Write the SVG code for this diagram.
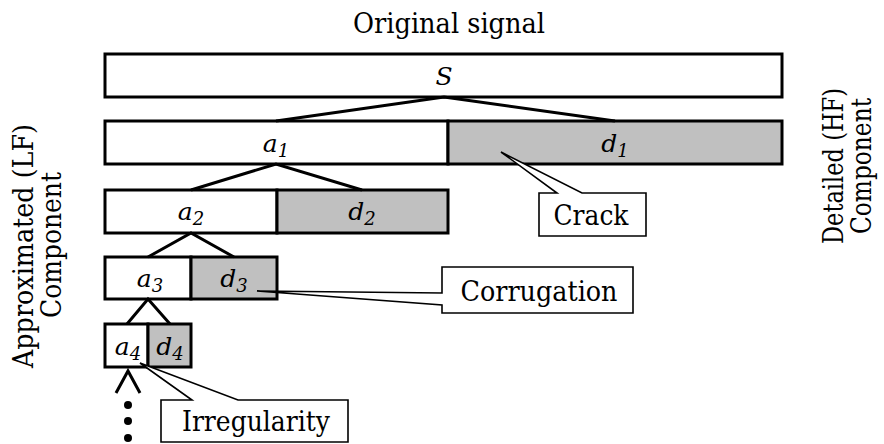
<svg xmlns="http://www.w3.org/2000/svg" width="884" height="444" viewBox="0 0 884 444">
<style>
text{font-family:'DejaVu Serif',serif;fill:#000}
.t{font-size:28px}
.r{font-size:27px}
.lbl{font-size:25px;font-style:italic;text-anchor:middle}
.sub{font-size:18px}
.a{fill:#fff;stroke:#000;stroke-width:3}
.d{fill:#c0c0c0;stroke:#000;stroke-width:3}
.tree{fill:none;stroke:#000;stroke-width:3}
.co{fill:#fff;stroke:#000;stroke-width:1.6}
.mid{text-anchor:middle}
</style>
<text class="t mid" x="449" y="33" textLength="192" lengthAdjust="spacingAndGlyphs">Original signal</text>
<g id="S">
<rect class="a" x="105" y="54" width="677" height="43"/>
<text class="lbl" x="444" y="85">S</text>
</g>
<g id="a1">
<rect class="a" x="105" y="121" width="343" height="43"/>
<text class="lbl" x="276" y="152">a<tspan class="sub" dy="5">1</tspan></text>
</g>
<g id="d1">
<rect class="d" x="448" y="121" width="334" height="43"/>
<text class="lbl" x="615" y="152">d<tspan class="sub" dy="5">1</tspan></text>
</g>
<g id="a2">
<rect class="a" x="105" y="190" width="172" height="43"/>
<text class="lbl" x="191" y="220">a<tspan class="sub" dy="5">2</tspan></text>
</g>
<g id="d2">
<rect class="d" x="277" y="190" width="171" height="43"/>
<text class="lbl" x="362" y="220">d<tspan class="sub" dy="5">2</tspan></text>
</g>
<g id="a3">
<rect class="a" x="105" y="257" width="86" height="42"/>
<text class="lbl" x="150" y="287">a<tspan class="sub" dy="5">3</tspan></text>
</g>
<g id="d3">
<rect class="d" x="191" y="257" width="86" height="42"/>
<text class="lbl" x="234" y="287">d<tspan class="sub" dy="5">3</tspan></text>
</g>
<g id="a4">
<rect class="a" x="105" y="324" width="43" height="43"/>
<text class="lbl" x="128" y="355">a<tspan class="sub" dy="5">4</tspan></text>
</g>
<g id="d4">
<rect class="d" x="148" y="324" width="43" height="43"/>
<text class="lbl" x="170" y="355">d<tspan class="sub" dy="5">4</tspan></text>
</g>
<g id="connectors">
<polyline class="tree" points="276,121 444,97 615,121"/>
<polyline class="tree" points="191,190 276,164 362,190"/>
<polyline class="tree" points="148,257 191,233 234,257"/>
<polyline class="tree" points="127,324 148,299 170,324"/>
<polyline class="tree" points="116,393 128,371 140,393"/>
<circle cx="128" cy="405" r="4"/>
<circle cx="128" cy="421" r="4"/>
<circle cx="128" cy="438" r="4"/>
</g>
<g id="crack">
<path class="co" d="M539,193 H557 L501,152 L582,193 H646 V236 H539 Z"/>
<text class="t mid" x="591" y="225" textLength="75" lengthAdjust="spacingAndGlyphs">Crack</text>
</g>
<g id="corrugation">
<path class="co" d="M442,267 H633 V313 H442 V305 L257,291 L442,293 Z"/>
<text class="t mid" x="539" y="301" textLength="157" lengthAdjust="spacingAndGlyphs">Corrugation</text>
</g>
<g id="irregularity">
<path class="co" d="M161,400 H192 L140,363 L238,400 H348 V442 H161 Z"/>
<text class="t mid" x="256" y="431" textLength="148" lengthAdjust="spacingAndGlyphs">Irregularity</text>
</g>
<g id="lf-label">
<text class="t mid" transform="translate(33,246) rotate(-90)" textLength="244" lengthAdjust="spacingAndGlyphs">Approximated (LF)</text>
<text class="t mid" transform="translate(61,245) rotate(-90)" textLength="146" lengthAdjust="spacingAndGlyphs">Component</text>
</g>
<g id="hf-label">
<text class="r mid" transform="translate(843,166) rotate(-90)" textLength="156" lengthAdjust="spacingAndGlyphs">Detailed (HF)</text>
<text class="r mid" transform="translate(871,166) rotate(-90)" textLength="136" lengthAdjust="spacingAndGlyphs">Component</text>
</g>
</svg>
